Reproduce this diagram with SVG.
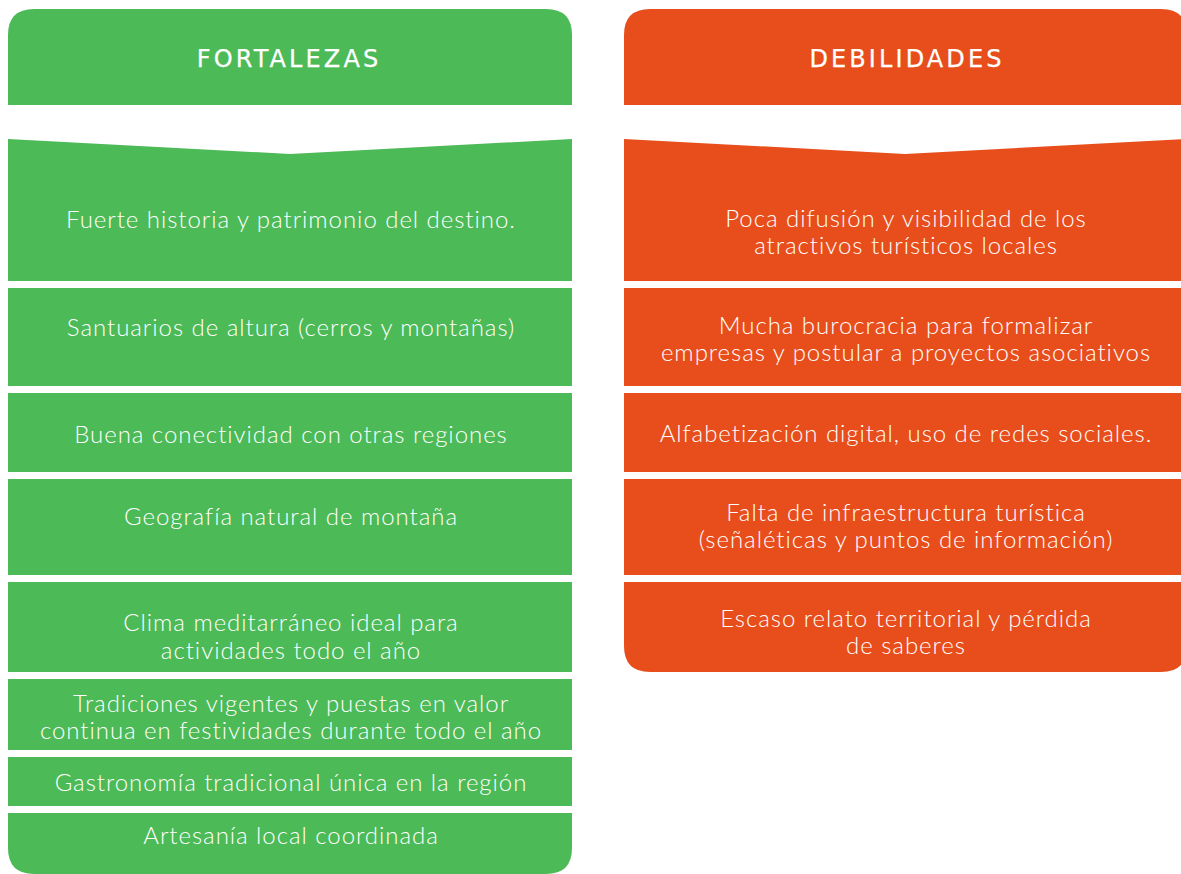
<svg xmlns="http://www.w3.org/2000/svg" width="1181" height="874" viewBox="0 0 1181 874">
<style>
.g{fill:#4CBA57}
.o{fill:#E84E1C}
.h{font-family:"DejaVu Sans","Liberation Sans",sans-serif;font-size:24px;fill:#fff;stroke:#fff;stroke-width:0.25px;text-anchor:middle;letter-spacing:3.1px}
.t{font-family:Lato,"Liberation Sans",sans-serif;font-weight:300;font-size:24px;fill:#fff;text-anchor:middle;letter-spacing:0.95px}
</style>
<rect width="1181" height="874" fill="#fff"/>
<g id="fortalezas">
<g id="f-head"><path class="g" d="M8 105 V35 Q8 9 34 9 H546 Q572 9 572 35 V105 Z"/><text class="h" x="289" y="67">FORTALEZAS</text></g>
<g id="f1"><path class="g" d="M8 139 L290 154 L572 139 V281 H8 Z"/><text class="t" x="291" y="228">Fuerte historia y patrimonio del destino.</text></g>
<g id="f2"><rect class="g" x="8" y="288" width="564" height="98"/><text class="t" x="291" y="336">Santuarios de altura (cerros y montañas)</text></g>
<g id="f3"><rect class="g" x="8" y="393" width="564" height="79"/><text class="t" x="291" y="443">Buena conectividad con otras regiones</text></g>
<g id="f4"><rect class="g" x="8" y="479" width="564" height="96"/><text class="t" x="291" y="525">Geografía natural de montaña</text></g>
<g id="f5"><rect class="g" x="8" y="582" width="564" height="90"/><text class="t" x="291" y="631">Clima meditarráneo ideal para</text><text class="t" x="291" y="659">actividades todo el año</text></g>
<g id="f6"><rect class="g" x="8" y="679" width="564" height="71"/><text class="t" x="291" y="712">Tradiciones vigentes y puestas en valor</text><text class="t" x="291" y="739">continua en festividades durante todo el año</text></g>
<g id="f7"><rect class="g" x="8" y="757" width="564" height="49"/><text class="t" x="291" y="791">Gastronomía tradicional única en la región</text></g>
<g id="f8"><path class="g" d="M8 813 H572 V848 Q572 874 546 874 H34 Q8 874 8 848 Z"/><text class="t" x="291" y="844">Artesanía local coordinada</text></g>
</g>
<g id="debilidades">
<g id="d-head"><path class="o" d="M624 105 V35 Q624 9 650 9 H1161 Q1187 9 1187 35 V105 Z"/><text class="h" x="907" y="67">DEBILIDADES</text></g>
<g id="d1"><path class="o" d="M624 139 L905 154 L1187 139 V281 H624 Z"/><text class="t" x="906" y="227">Poca difusión y visibilidad de los</text><text class="t" x="906" y="254">atractivos turísticos locales</text></g>
<g id="d2"><rect class="o" x="624" y="288" width="563" height="98"/><text class="t" x="906" y="334">Mucha burocracia para formalizar</text><text class="t" x="906" y="361">empresas y postular a proyectos asociativos</text></g>
<g id="d3"><rect class="o" x="624" y="393" width="563" height="79"/><text class="t" x="906" y="442">Alfabetización digital, uso de redes sociales.</text></g>
<g id="d4"><rect class="o" x="624" y="479" width="563" height="96"/><text class="t" x="906" y="521">Falta de infraestructura turística</text><text class="t" x="906" y="548">(señaléticas y puntos de información)</text></g>
<g id="d5"><path class="o" d="M624 582 H1187 V646 Q1187 672 1161 672 H650 Q624 672 624 646 Z"/><text class="t" x="906" y="627">Escaso relato territorial y pérdida</text><text class="t" x="906" y="654">de saberes</text></g>
</g>
<g id="connectors"/>
</svg>
